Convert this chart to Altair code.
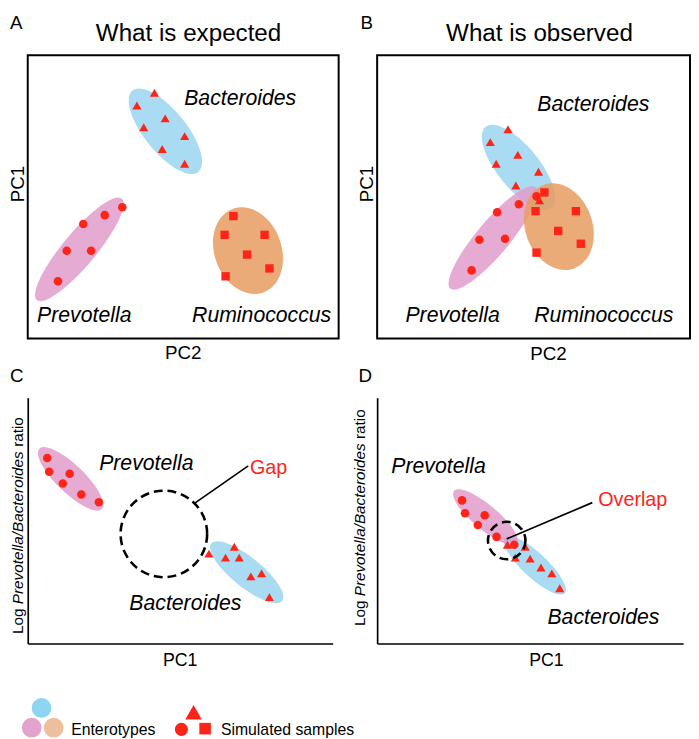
import altair as alt
import pandas as pd

FONT = "Liberation Sans"
RED = "#ff2418"
ELL_BLUE, ELL_PINK, ELL_ORANGE = "#9ad6f0", "#e29ccb", "#e69c62"
LEG_BLUE, LEG_PINK, LEG_ORANGE = "#8dd5f2", "#e3a3cc", "#edbf9c"

# ---------------- Panel A : What is expected  (units: x 0-31.9, y 0-28.7) ----------------
a_bac_x = [13.0, 11.2, 14.1, 11.9, 16.1, 13.8, 16.1]
a_bac_y = [24.9, 23.6, 22.3, 21.4, 20.5, 19.2, 17.7]
a_pre_x = [9.7, 7.9, 5.7, 4.0, 6.5, 3.1]
a_pre_y = [13.3, 12.5, 11.6, 8.9, 8.9, 5.8]
a_rum_x = [21.1, 20.2, 24.3, 22.5, 24.8, 20.3]
a_rum_y = [12.4, 10.5, 10.5, 8.5, 7.1, 6.3]
a_ell_x = [14.13, 5.3, 22.6]
a_ell_y = [21.0, 9.03, 8.9]
ab_ell_len = [106, 134, 90]
ab_ell_ratio = [0.40, 0.25, 0.755]
ab_ell_angle = [51, 130, 70]
ab_ell_color = [ELL_BLUE, ELL_PINK, ELL_ORANGE]
a_lab_x = [21.8, 5.8, 24.0]
a_lab_y = [23.63, 1.63, 1.63]
genus3 = ["Bacteroides", "Prevotella", "Ruminococcus"]

# ---------------- Panel B : What is observed  (units: x 0-31.8, y 0-28.7) ----------------
b_bac_x = [13.3, 11.5, 14.3, 12.1, 16.4, 14.1, 16.5]
b_bac_y = [21.2, 19.9, 18.6, 17.7, 16.9, 15.5, 14.0]
b_pre_x = [16.2, 14.4, 12.2, 10.4, 13.0, 9.6]
b_pre_y = [14.4, 13.6, 12.8, 10.0, 10.1, 6.9]
b_rum_x = [17.0, 16.1, 20.2, 18.4, 20.7, 16.2]
b_rum_y = [14.8, 12.9, 12.9, 10.9, 9.6, 8.7]
b_ell_x = [14.37, 11.77, 18.47]
b_ell_y = [17.33, 10.18, 11.33]
b_lab_x = [21.97, 7.67, 23.03]
b_lab_y = [23.03, 1.63, 1.63]

# ---------------- Panel C : gap  (units: x 0-31.3, y 0-24.9) ----------------
c_pre_x = [2.0, 2.2, 4.3, 3.6, 5.5, 7.3]
c_pre_y = [18.8, 17.4, 17.2, 16.2, 15.1, 14.3]
c_bac_x = [18.6, 21.2, 20.3, 21.7, 22.9, 24.0, 24.8]
c_bac_y = [9.1, 9.8, 8.7, 8.7, 6.8, 7.1, 4.7]
c_ell_x = [4.4, 22.47]
c_ell_y = [16.68, 7.22]
c_ell_len = [88, 92.5]
c_ell_ratio = [0.32, 0.325]
c_ell_angle = [44, 39]
c_ell_color = [ELL_PINK, ELL_BLUE]
c_ring_x, c_ring_y = [13.97], [11.1]
c_line_x, c_line_y, c_line_x2, c_line_y2 = [17.07], [14.17], [22.63], [18.0]
c_lab_x, c_lab_y = [12.17, 16.18], [17.6, 3.43]
c_note_x, c_note_y = [22.8], [17.2]

# ---------------- Panel D : overlap  (units: x 0-31.0, y 0-24.9) ----------------
d_pre_x = [8.6, 8.9, 10.9, 10.2, 12.1, 13.9]
d_pre_y = [14.5, 13.2, 13.0, 12.0, 10.8, 10.0]
d_bac_x = [13.2, 15.0, 14.0, 15.5, 16.6, 17.7, 18.5]
d_bac_y = [10.0, 9.8, 8.7, 8.6, 7.7, 7.1, 5.6]
d_ell_x = [15.97, 10.97]
d_ell_y = [7.93, 12.8]
d_ell_len = [83, 83]
d_ell_ratio = [0.30, 0.30]
d_ell_angle = [43, 40]
d_ell_color = [ELL_BLUE, ELL_PINK]
d_ring_x, d_ring_y = [13.13], [10.43]
d_line_x, d_line_y, d_line_x2, d_line_y2 = [13.13], [10.6], [21.8], [14.27]
d_lab_x, d_lab_y = [6.22, 22.93], [17.27, 1.93]
d_note_x, d_note_y = [22.4], [13.93]

genus2 = ["Prevotella", "Bacteroides"]

# y titles of C and D (split so that the genus names are italic)
c_yt_x, d_yt_x = -0.46, -1.25
c_yt_norm_y, c_yt_ital_y = [0.96, 19.92], [3.98]
d_yt_norm_y, d_yt_ital_y = [1.76, 20.72], [4.78]
yt_norm_t, yt_ital_t = ["Log", "ratio"], ["Prevotella/Bacteroides"]

# ---------------- Legend (units: x 0-31.5, y 0-3.2) ----------------
leg_ent_x = [1.4, 0.4, 2.63]
leg_ent_y = [2.67, 0.67, 0.67]
leg_ent_color = [LEG_BLUE, LEG_PINK, LEG_ORANGE]
leg_cir_x, leg_cir_y = [15.57], [0.5]
leg_tri_x, leg_tri_y = [16.8], [2.23]
leg_sq_x, leg_sq_y = [17.97], [0.57]
leg_txt_x, leg_txt_y = [4.4, 19.57], [-0.12, -0.12]
leg_txt_t = ["Enterotypes", "Simulated samples"]


def ell_path(r):
    return f"M -1 0 A 1 {r} 0 1 1 1 0 A 1 {r} 0 1 1 -1 0 Z"


def enc(xdom, ydom, xaxis=None, yaxis=None):
    return dict(
        x=alt.X("x:Q", scale=alt.Scale(domain=xdom, nice=False, zero=False), axis=xaxis),
        y=alt.Y("y:Q", scale=alt.Scale(domain=ydom, nice=False, zero=False), axis=yaxis),
    )


def ellipses(xs, ys, lens, ratios, angles, colors, e):
    df = pd.DataFrame({"x": xs, "y": ys, "size": [l * l for l in lens],
                       "shape": [ell_path(r) for r in ratios], "angle": angles, "color": colors})
    return alt.Chart(df).mark_point(filled=True, opacity=0.85, strokeWidth=0).encode(
        **e,
        size=alt.Size("size:Q", scale=None),
        shape=alt.Shape("shape:N", scale=None),
        angle=alt.Angle("angle:Q", scale=None),
        color=alt.Color("color:N", scale=None),
    )


def points(xs, ys, shape, size, e, color=RED):
    df = pd.DataFrame({"x": xs, "y": ys})
    return alt.Chart(df).mark_point(filled=True, shape=shape, size=size, color=color,
                                    opacity=1, strokeWidth=0).encode(**e)


def texts(xs, ys, ts, e, **style):
    df = pd.DataFrame({"x": xs, "y": ys, "t": ts})
    base = dict(font=FONT, color="black", baseline="alphabetic")
    base.update(style)
    return alt.Chart(df).mark_text(**base).encode(**e, text="t:N")


def ring(xs, ys, size, e):
    df = pd.DataFrame({"x": xs, "y": ys})
    return alt.Chart(df).mark_point(shape="circle", filled=False, size=size, color="black",
                                    opacity=1, strokeWidth=2.6, strokeDash=[9, 5]).encode(**e)


def pointer(x1, y1, x2, y2, e):
    df = pd.DataFrame({"x": x1, "y": y1, "x2": x2, "y2": y2})
    return alt.Chart(df).mark_rule(color="black", strokeWidth=1.7).encode(
        **e, x2="x2:Q", y2="y2:Q")


def plain_axis(title, tx, ty, size=19, angle=0, domain=False):
    return alt.Axis(title=title, titleX=tx, titleY=ty, titleAngle=angle, titleAlign="center",
                    titleBaseline="alphabetic", titleFontSize=size, titleFontWeight="normal",
                    titleFont=FONT, titleColor="black", domain=domain, domainColor="black",
                    domainWidth=1.7, ticks=False, labels=False, grid=False)


def line_axis():
    return alt.Axis(title=None, domain=True, domainColor="black", domainWidth=1.7,
                    ticks=False, labels=False, grid=False)


SPECIES = dict(fontSize=21.5, fontStyle="italic", align="center")
LETTER = dict(fontSize=19, align="left")
HEAD = dict(fontSize=24.5, align="center")
FRAME = alt.ViewBackground(stroke="black", strokeWidth=2)
NOFRAME = alt.ViewBackground(stroke=None)

# ---------- A ----------
eA = enc([0, 31.9], [0, 28.7], plain_axis("PC2", 157, 20), plain_axis("PC1", -4, 130, angle=270))
panelA = alt.layer(
    ellipses(a_ell_x, a_ell_y, ab_ell_len, ab_ell_ratio, ab_ell_angle, ab_ell_color, eA),
    points(a_bac_x, a_bac_y, "triangle-up", 85, eA),
    points(a_pre_x, a_pre_y, "circle", 75, eA),
    points(a_rum_x, a_rum_y, "square", 72, eA),
    texts(a_lab_x, a_lab_y, genus3, eA, **SPECIES),
    texts([16.5], [30.1], ["What is expected"], eA, **HEAD),
    texts([-1.82], [31.38], ["A"], eA, **LETTER),
).properties(width=315, height=287, view=FRAME)

# ---------- B ----------
eB = enc([0, 31.8], [0, 28.7], plain_axis("PC2", 173, 21), plain_axis("PC1", -5, 130, angle=270))
panelB = alt.layer(
    ellipses(b_ell_x, b_ell_y, ab_ell_len, ab_ell_ratio, ab_ell_angle, ab_ell_color, eB),
    points(b_bac_x, b_bac_y, "triangle-up", 85, eB),
    points(b_pre_x, b_pre_y, "circle", 75, eB),
    points(b_rum_x, b_rum_y, "square", 72, eB),
    texts(b_lab_x, b_lab_y, genus3, eB, **SPECIES),
    texts([16.5], [30.1], ["What is observed"], eB, **HEAD),
    texts([-1.7], [31.38], ["B"], eB, **LETTER),
).properties(width=317, height=287, view=FRAME)

# ---------- C ----------
eC = enc([0, 31.3], [0, 24.9], plain_axis("PC1", 154, 22, size=18, domain=True), line_axis())
panelC = alt.layer(
    ellipses(c_ell_x, c_ell_y, c_ell_len, c_ell_ratio, c_ell_angle, c_ell_color, eC),
    points(c_pre_x, c_pre_y, "circle", 75, eC),
    points(c_bac_x, c_bac_y, "triangle-up", 85, eC),
    ring(c_ring_x, c_ring_y, 7690, eC),
    pointer(c_line_x, c_line_y, c_line_x2, c_line_y2, eC),
    texts(c_lab_x, c_lab_y, genus2, eC, **SPECIES),
    texts(c_note_x, c_note_y, ["Gap"], eC, fontSize=20, align="left", color=RED),
    texts([c_yt_x] * 2, c_yt_norm_y, yt_norm_t, eC, fontSize=15.5, align="left", angle=270),
    texts([c_yt_x], c_yt_ital_y, yt_ital_t, eC, fontSize=15.5, align="left", angle=270,
          fontStyle="italic"),
    texts([-1.82], [26.5], ["C"], eC, **LETTER),
).properties(width=309, height=249, view=NOFRAME)

# ---------- D ----------
eD = enc([0, 31.0], [0, 24.9], plain_axis("PC1", 171, 22, size=18, domain=True), line_axis())
panelD = alt.layer(
    ellipses(d_ell_x, d_ell_y, d_ell_len, d_ell_ratio, d_ell_angle, d_ell_color, eD),
    points(d_pre_x, d_pre_y, "circle", 75, eD),
    points(d_bac_x, d_bac_y, "triangle-up", 85, eD),
    ring(d_ring_x, d_ring_y, 1444, eD),
    pointer(d_line_x, d_line_y, d_line_x2, d_line_y2, eD),
    texts(d_lab_x, d_lab_y, genus2, eD, **SPECIES),
    texts(d_note_x, d_note_y, ["Overlap"], eD, fontSize=20, align="left", color=RED),
    texts([d_yt_x] * 2, d_yt_norm_y, yt_norm_t, eD, fontSize=15.5, align="left", angle=270),
    texts([d_yt_x], d_yt_ital_y, yt_ital_t, eD, fontSize=15.5, align="left", angle=270,
          fontStyle="italic"),
    texts([-1.9], [26.5], ["D"], eD, **LETTER),
).properties(width=310, height=249, view=NOFRAME)

# ---------- legend ----------
eL = enc([0, 31.5], [0, 3.2])
leg_df = pd.DataFrame({"x": leg_ent_x, "y": leg_ent_y, "color": leg_ent_color})
legend = alt.layer(
    alt.Chart(leg_df).mark_point(filled=True, shape="circle", size=400, opacity=1,
                                 strokeWidth=0).encode(**eL, color=alt.Color("color:N", scale=None)),
    points(leg_cir_x, leg_cir_y, "circle", 177, eL),
    points(leg_tri_x, leg_tri_y, "triangle-up", 280, eL),
    points(leg_sq_x, leg_sq_y, "square", 137, eL),
    texts(leg_txt_x, leg_txt_y, leg_txt_t, eL, fontSize=16, align="left"),
).properties(width=315, height=32, view=NOFRAME)

chart = alt.concat(
    panelA, panelB, panelC, panelD, legend,
    columns=2, spacing=alt.RowColnumber(row=60, column=39), bounds="flush",
).properties(padding=0, background="white").configure(font=FONT).configure_view(stroke=None)

chart.save("out.html", embed_options={"renderer": "svg", "actions": False})
